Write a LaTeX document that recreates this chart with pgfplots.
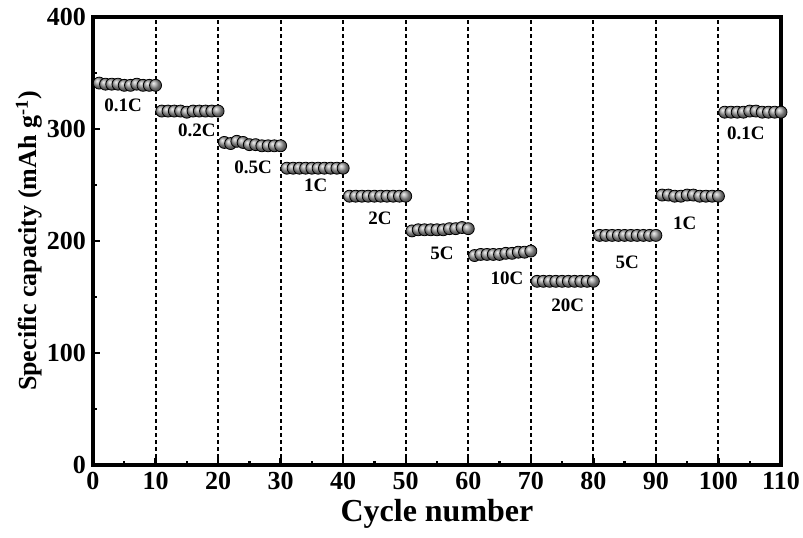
\documentclass[border=0pt]{standalone}
\usepackage{fontspec}
\setmainfont{Liberation Serif}
\usepackage{pgfplots}
\pgfplotsset{compat=1.18}
\begin{document}
\begin{tikzpicture}
\begin{axis}[
  name=ax,
  scale only axis,
  width=344pt, height=224pt,
  xmin=0, xmax=110, ymin=0, ymax=400,
  xtick={0,10,...,110}, ytick={0,100,...,400},
  minor xtick={5,15,...,105}, minor ytick={50,150,...,350},
  tick align=inside,
  major tick length=3.5pt, minor tick length=2pt,
  every tick/.style={black, line width=1.2pt},
  axis line style={line width=2pt},
  /pgf/number format/assume math mode=true,
  tick label style={font=\fontsize{13}{13}\selectfont\bfseries},
  xtick pos=bottom, ytick pos=left,
  xlabel={\fontsize{16}{16}\selectfont\bfseries Cycle number},
  ylabel={\fontsize{13}{13}\selectfont\bfseries Specific capacity (mAh g\textsuperscript{-1})},
  xlabel style={yshift=2pt},
  ylabel style={yshift=-4.5pt},
  clip=false,
]
% dashed separators
\foreach \v in {10,20,...,100} {
  \edef\tmp{\noexpand\draw[black, line width=1pt, dash pattern=on 2pt off 1.5pt] (axis cs:\v,0) -- (axis cs:\v,400);}
  \tmp
}
\addplot[only marks, mark=ball, mark size=3pt, mark options={ball color=gray!75}] coordinates {
(1,341)(2,340)(3,340)(4,340)(5,339)(6,339)(7,340)(8,339)(9,339)(10,339)
(11,316)(12,316)(13,316)(14,316)(15,315)(16,316)(17,316)(18,316)(19,316)(20,316)
(21,288)(22,287)(23,289)(24,288)(25,286)(26,286)(27,285)(28,285)(29,285)(30,285)
(31,265)(32,265)(33,265)(34,265)(35,265)(36,265)(37,265)(38,265)(39,265)(40,265)
(41,240)(42,240)(43,240)(44,240)(45,240)(46,240)(47,240)(48,240)(49,240)(50,240)
(51,209)(52,210)(53,210)(54,210)(55,210)(56,210)(57,211)(58,211)(59,212)(60,211)
(61,187)(62,188)(63,188)(64,188)(65,188)(66,189)(67,189)(68,190)(69,190)(70,191)
(71,164)(72,164)(73,164)(74,164)(75,164)(76,164)(77,164)(78,164)(79,164)(80,164)
(81,205)(82,205)(83,205)(84,205)(85,205)(86,205)(87,205)(88,205)(89,205)(90,205)
(91,241)(92,241)(93,240)(94,240)(95,241)(96,241)(97,240)(98,240)(99,240)(100,240)
(101,315)(102,315)(103,315)(104,315)(105,316)(106,316)(107,315)(108,315)(109,315)(110,315)
};
\begin{scope}[every node/.style={font=\fontsize{9.5}{10}\selectfont\bfseries}]
\node at (axis cs:4.8,321) {0.1C};
\node at (axis cs:16.6,299) {0.2C};
\node at (axis cs:25.6,266) {0.5C};
\node at (axis cs:35.6,250) {1C};
\node at (axis cs:45.9,220) {2C};
\node at (axis cs:55.8,189) {5C};
\node at (axis cs:66.2,167) {10C};
\node at (axis cs:75.9,143) {20C};
\node at (axis cs:85.4,181) {5C};
\node at (axis cs:94.6,216) {1C};
\node at (axis cs:104.4,296) {0.1C};
\end{scope}
\end{axis}
\pgfresetboundingbox
\path[use as bounding box] ([xshift=-46.5pt,yshift=-36.5pt]ax.south west) rectangle ([xshift=11pt,yshift=8.5pt]ax.north east);
\end{tikzpicture}
\end{document}
